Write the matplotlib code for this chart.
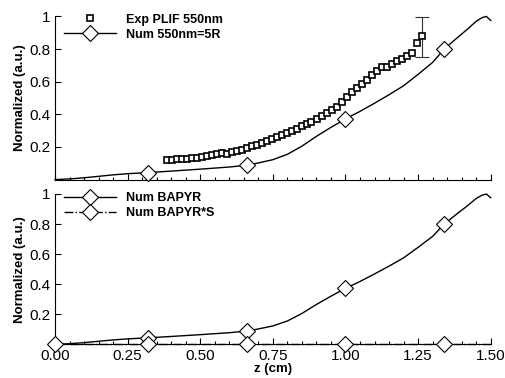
import numpy as np
import matplotlib
matplotlib.use("Agg")
import matplotlib.pyplot as plt
from matplotlib.ticker import FixedLocator, FixedFormatter, MultipleLocator

plt.rcParams.update({
    "font.family": ["Liberation Sans", "DejaVu Sans"],
    "font.size": 8.5,
})

# numerical profile (same shape in both panels)
num_z = [0.00, 0.05, 0.10, 0.15, 0.20, 0.25, 0.32, 0.40, 0.50, 0.60, 0.66,
         0.70, 0.75, 0.80, 0.85, 0.90, 0.95, 1.00, 1.05, 1.10, 1.15, 1.20,
         1.25, 1.30, 1.34, 1.38, 1.42, 1.45, 1.47, 1.485, 1.50]
num_y = [0.000, 0.004, 0.011, 0.020, 0.029, 0.036, 0.043, 0.052, 0.064, 0.077, 0.088,
         0.102, 0.122, 0.155, 0.205, 0.265, 0.320, 0.372, 0.418, 0.468, 0.520, 0.575,
         0.645, 0.718, 0.800, 0.862, 0.922, 0.970, 0.992, 1.000, 0.975]
num_marks = [0.32, 0.66, 1.00, 1.34]

# experimental PLIF 550nm
exp_z = [0.385, 0.402, 0.419, 0.437, 0.454, 0.471, 0.488, 0.505, 0.523, 0.540,
         0.557, 0.574, 0.591, 0.609, 0.626, 0.643, 0.660, 0.677, 0.694, 0.711,
         0.729, 0.746, 0.763, 0.780, 0.797, 0.815, 0.832, 0.849, 0.866, 0.883,
         0.901, 0.918, 0.935, 0.952, 0.970, 0.987, 1.004, 1.021, 1.039, 1.056,
         1.073, 1.090, 1.108, 1.125, 1.142, 1.159, 1.176, 1.194, 1.211, 1.228,
         1.245, 1.263]
exp_y = [0.120, 0.122, 0.124, 0.126, 0.128, 0.131, 0.134, 0.139, 0.143, 0.149,
         0.156, 0.160, 0.159, 0.166, 0.175, 0.182, 0.194, 0.205, 0.213, 0.222,
         0.238, 0.248, 0.258, 0.274, 0.285, 0.298, 0.313, 0.327, 0.342, 0.355,
         0.372, 0.390, 0.405, 0.425, 0.447, 0.475, 0.505, 0.535, 0.560, 0.588,
         0.613, 0.638, 0.664, 0.688, 0.692, 0.710, 0.726, 0.742, 0.760, 0.778,
         0.838, 0.880]
err_z = 1.263
err_y = 0.880
err_lo = 0.127
err_hi = 0.118

# BAPYR*S (flat at zero)
star_z = [0.00, 0.32, 0.66, 1.00, 1.34, 1.50]
star_y = [0.0, 0.0, 0.0, 0.0, 0.0, 0.0]

ytick_vals = [0.2, 0.4, 0.6, 0.8, 1.0]
ytick_labels = ["0.2", "0.4", "0.6", "0.8", "1"]
xtick_vals = [0.0, 0.25, 0.5, 0.75, 1.0, 1.25, 1.5]
xtick_labels = ["0.00", "0.25", "0.50", "0.75", "1.00", "1.25", "1.50"]


def style(ax):
    ax.set_xlim(0, 1.5)
    ax.set_ylim(0, 1.0)
    for s in ("top", "right"):
        ax.spines[s].set_visible(False)
    ax.yaxis.set_major_locator(FixedLocator(ytick_vals))
    ax.yaxis.set_major_formatter(FixedFormatter(ytick_labels))
    ax.xaxis.set_major_locator(FixedLocator(xtick_vals))
    ax.xaxis.set_minor_locator(MultipleLocator(0.05))
    ax.tick_params(which="both", direction="in", width=0.8, labelsize=11)
    ax.tick_params(which="major", length=4.5)
    ax.tick_params(which="minor", length=2.5)
    ax.set_ylabel("Normalized (a.u.)", fontweight="bold", fontsize=9.5, labelpad=2)


mk_idx = [num_z.index(v) for v in num_marks]
dia = dict(marker="D", ms=8, mfc="white", mec="black", mew=0.8)

fig = plt.figure(figsize=(5.06, 3.78), dpi=100)
ax1 = fig.add_axes([0.1087, 0.5249, 0.8611, 0.4317])
ax2 = fig.add_axes([0.1087, 0.0892, 0.8611, 0.3976])

# top panel
ax1.errorbar([err_z], [err_y], yerr=[[err_lo], [err_hi]], fmt="none",
             ecolor="#333333", elinewidth=0.8, capsize=5, capthick=0.8, clip_on=False)
ax1.plot(exp_z, exp_y, ls="none", marker="s", ms=4.5, mfc="white", mec="black",
         mew=1.2, label="Exp PLIF 550nm", clip_on=False, zorder=3)
ax1.plot(num_z, num_y, color="black", lw=1.0, markevery=mk_idx,
         label="Num 550nm=5R", clip_on=False, zorder=4, **dia)
style(ax1)
ax1.set_xticklabels([])
ax1.legend(loc="upper left", bbox_to_anchor=(0.0, 1.07), frameon=False,
           prop={"weight": "bold", "size": 9}, handlelength=4.2,
           handletextpad=0.8, labelspacing=0.25, borderpad=0.2)

# bottom panel
ax2.plot(num_z, num_y, color="black", lw=1.0, markevery=mk_idx,
         label="Num BAPYR", clip_on=False, zorder=4, **dia)
ax2.plot(star_z, star_y, color="black", lw=1.0, ls="-.", markevery=[0, 1, 2, 3, 4],
         label="Num BAPYR*S", clip_on=False, zorder=4, **dia)
style(ax2)
ax2.set_xticklabels(xtick_labels)
ax2.set_xlabel("z (cm)", fontweight="bold", fontsize=9.5, labelpad=0)
ax2.legend(loc="upper left", bbox_to_anchor=(0.0, 1.07), frameon=False,
           prop={"weight": "bold", "size": 9}, handlelength=4.2,
           handletextpad=0.8, labelspacing=0.25, borderpad=0.2)

fig.savefig("out.png", dpi=100)
